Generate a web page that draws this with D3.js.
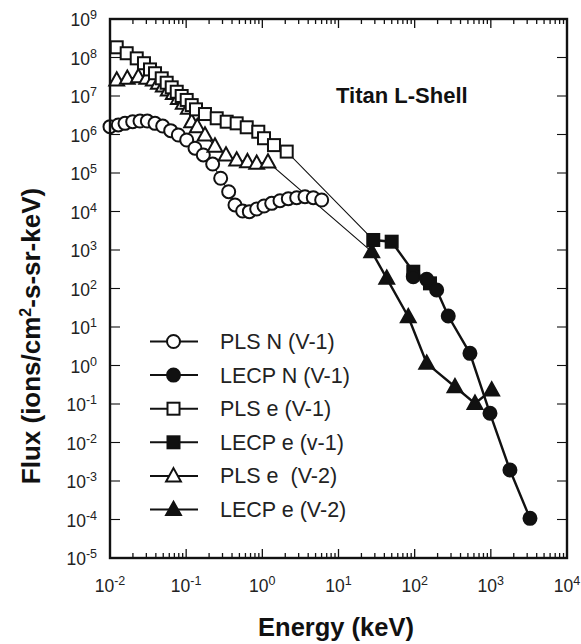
<!DOCTYPE html>
<html><head><meta charset="utf-8">
<script src="https://d3js.org/d3.v7.min.js"></script>
<style>body{margin:0;background:#fff}svg{display:block}</style>
</head><body>
<svg id="c" width="581" height="644"></svg>
<script>
// ---- data ----
const plsN_E = [0.0100,0.01285,0.01574,0.01986,0.02477,0.0309,0.0390,0.0492,0.0627,0.0789,0.1016,0.1306,0.1679,0.2228,0.2838,0.3614,0.4375,0.552,0.675,0.843,1.052,1.327,1.706,2.193,2.825,3.631,4.667,6.012];
const plsN_F = [1.60e6,1.77e6,1.95e6,2.15e6,2.24e6,2.24e6,1.95e6,1.66e6,1.26e6,9.7e5,7.2e5,4.4e5,2.94e5,1.71e5,7.3e4,3.27e4,1.48e4,1.03e4,9.9e3,1.16e4,1.39e4,1.63e4,1.91e4,2.15e4,2.28e4,2.42e4,2.28e4,1.99e4];
const lecpN_E = [95.9,143.9,194.5,276,532,975,1782,3266];
const lecpN_F = [203,173,91.4,19.3,2.07,0.0573,0.00193,1.07e-4];
const plsE1_E = [0.01225,0.01656,0.02244,0.02793,0.0335,0.0390,0.0478,0.0555,0.0646,0.0752,0.0873,0.1016,0.1183,0.1346,0.1766,0.2518,0.3404,0.4603,0.6237,0.885,1.052,1.422,2.089];
const plsE1_F = [1.84e8,1.29e8,9.5e7,7.1e7,4.9e7,3.9e7,2.88e7,2.21e7,1.68e7,1.29e7,1.0e7,7.9e6,5.8e6,4.5e6,3.4e6,2.64e6,2.15e6,1.95e6,1.54e6,1.18e6,8.0e5,5.3e5,3.6e5];
const lecpE1_E = [28.6,49.9,95.9,158.9];
const lecpE1_F = [1820,1644,273,136];
const plsE2_E = [0.01225,0.01687,0.02355,0.03034,0.0370,0.0431,0.0501,0.0582,0.0678,0.0789,0.0916,0.1067,0.118,0.140,0.1766,0.2388,0.3334,0.4603,0.638,0.843,1.186];
const plsE2_F = [2.61e7,2.88e7,3.17e7,2.88e7,2.61e7,2.14e7,1.82e7,1.43e7,1.17e7,8.7e6,6.5e6,4.8e6,2.15e6,1.60e6,9.7e5,5.0e5,2.94e5,2.18e5,1.97e5,1.79e5,1.93e5];
const lecpE2_E = [27.3,43.0,82.4,143.9,338,619,1026];
const lecpE2_F = [904,184,18.5,1.14,0.281,0.104,0.231];

const xTickExps = [-2,-1,0,1,2,3,4];
const yTickExps = [-5,-4,-3,-2,-1,0,1,2,3,4,5,6,7,8,9];
const legendLabels = ["PLS N (V-1)","LECP N (V-1)","PLS e (V-1)","LECP e (v-1)","PLS e  (V-2)","LECP e (V-2)"];
const titleText = "Titan L-Shell";
const xTitle = "Energy (keV)";
const yTitleMain = "Flux (ions/cm", yTitleSup = "2", yTitleRest = "-s-sr-keV)";

// ---- drawing ----
const svg = d3.select("#c");
const L=110,R=567,T=19,B=558;
const x = d3.scaleLog().domain([1e-2,1e4]).range([L,R]);
const y = d3.scaleLog().domain([1e-5,1e9]).range([B,T]);
const ink = "#111";
const fontL = "'Liberation Sans', Arial, Helvetica, sans-serif";

const zip = (E,F)=>E.map((e,i)=>[e,F[i]]);
const line = d3.line().x(d=>x(d[0])).y(d=>y(d[1]));

const gPlot = svg.append("g");
const thin = [
  zip(plsN_E,plsN_F),
  zip(plsE1_E,plsE1_F).concat([[lecpE1_E[0],lecpE1_F[0]]]),
  zip(plsE2_E,plsE2_F).concat([[lecpE2_E[0],lecpE2_F[0]]])
];
thin.forEach(d=>gPlot.append("path").attr("d",line(d)).attr("fill","none").attr("stroke",ink).attr("stroke-width",1.1));
const thick = [zip(lecpN_E,lecpN_F), zip(lecpE1_E,lecpE1_F), zip(lecpE2_E,lecpE2_F)];
thick.forEach(d=>gPlot.append("path").attr("d",line(d)).attr("fill","none").attr("stroke",ink).attr("stroke-width",2.4));

function marker(g, type, filled, cx, cy){
  const fill = filled? ink : "#fff";
  if(type==="circle"){
    g.append("circle").attr("cx",cx).attr("cy",cy).attr("r",6.5).attr("fill",fill).attr("stroke",ink).attr("stroke-width",2);
  } else if(type==="square"){
    const s=12;
    g.append("rect").attr("x",cx-s/2).attr("y",cy-s/2).attr("width",s).attr("height",s).attr("fill",fill).attr("stroke",ink).attr("stroke-width",2);
  } else {
    const s=7.4;
    g.append("path").attr("d",`M${cx},${cy-s*1.05}L${cx+s},${cy+s*0.75}L${cx-s},${cy+s*0.75}Z`).attr("fill",fill).attr("stroke",ink).attr("stroke-width",2).attr("stroke-linejoin","miter");
  }
}
const series = [
  {E:plsN_E,F:plsN_F,t:"circle",f:false},
  {E:plsE2_E,F:plsE2_F,t:"tri",f:false},
  {E:plsE1_E,F:plsE1_F,t:"square",f:false},
  {E:lecpE2_E,F:lecpE2_F,t:"tri",f:true},
  {E:lecpE1_E,F:lecpE1_F,t:"square",f:true},
  {E:lecpN_E,F:lecpN_F,t:"circle",f:true}
];
series.forEach(s=>s.E.forEach((e,i)=>marker(gPlot,s.t,s.f,x(e),y(s.F[i]))));

// ---- axes frame & ticks ----
const gAx = svg.append("g");
const xt = x.ticks(), yt = y.ticks();
const isMajor = v => Math.abs(Math.log10(v)-Math.round(Math.log10(v)))<1e-6;
xt.forEach(v=>{
  const px=x(v), len=isMajor(v)?9:5;
  gAx.append("line").attr("x1",px).attr("x2",px).attr("y1",B).attr("y2",B-len).attr("stroke",ink).attr("stroke-width",1.3);
  gAx.append("line").attr("x1",px).attr("x2",px).attr("y1",T).attr("y2",T+len).attr("stroke",ink).attr("stroke-width",1.3);
});
yt.forEach(v=>{
  const py=y(v), len=isMajor(v)?10:5;
  gAx.append("line").attr("x1",L).attr("x2",L+len).attr("y1",py).attr("y2",py).attr("stroke",ink).attr("stroke-width",1.1);
  gAx.append("line").attr("x1",R).attr("x2",R-len).attr("y1",py).attr("y2",py).attr("stroke",ink).attr("stroke-width",1.1);
});
gAx.append("rect").attr("x",L).attr("y",T).attr("width",R-L).attr("height",B-T).attr("fill","none").attr("stroke",ink).attr("stroke-width",2.4);

// tick labels
xTickExps.forEach(e=>{
  const t = svg.append("text").attr("x",x(Math.pow(10,e))).attr("y",592).attr("text-anchor","middle")
    .attr("font-family",fontL).attr("font-size",17.5).attr("fill","#222");
  t.append("tspan").text("10");
  t.append("tspan").attr("dy",-7).attr("font-size",12.5).text(e<0?"-"+Math.abs(e):String(e));
});
yTickExps.forEach(e=>{
  const t = svg.append("text").attr("x",97).attr("y",y(Math.pow(10,e))+7).attr("text-anchor","end")
    .attr("font-family",fontL).attr("font-size",17.5).attr("fill","#222");
  t.append("tspan").text("10");
  t.append("tspan").attr("dy",-7).attr("font-size",12.5).text(e<0?"-"+Math.abs(e):String(e));
});

// titles
svg.append("text").attr("x",336).attr("y",103).attr("font-family",fontL).attr("font-weight","bold").attr("font-size",22).attr("fill",ink).text(titleText);
svg.append("text").attr("x",336).attr("y",636).attr("text-anchor","middle").attr("font-family",fontL).attr("font-weight","bold").attr("font-size",25.5).attr("fill",ink).text(xTitle);
const yt2 = svg.append("text").attr("transform","translate(40,336) rotate(-90)").attr("text-anchor","middle")
  .attr("font-family",fontL).attr("font-weight","bold").attr("font-size",26).attr("fill",ink);
yt2.append("tspan").text(yTitleMain);
yt2.append("tspan").attr("dy",-9).attr("font-size",16).text(yTitleSup);
yt2.append("tspan").attr("dy",9).text(yTitleRest);

// legend
const legTypes = [["circle",false],["circle",true],["square",false],["square",true],["tri",false],["tri",true]];
const gLeg = svg.append("g");
legendLabels.forEach((lab,i)=>{
  const cy = 341.5 + i*33.6;
  gLeg.append("line").attr("x1",150).attr("x2",198).attr("y1",cy).attr("y2",cy).attr("stroke",ink).attr("stroke-width",2);
  marker(gLeg, legTypes[i][0], legTypes[i][1], 173.5, cy);
  gLeg.append("text").attr("x",220).attr("y",cy+7.5).attr("font-family",fontL).attr("font-size",21.5).attr("fill","#222").attr("xml:space","preserve").style("white-space","pre").text(lab);
});
</script>
</body></html>
